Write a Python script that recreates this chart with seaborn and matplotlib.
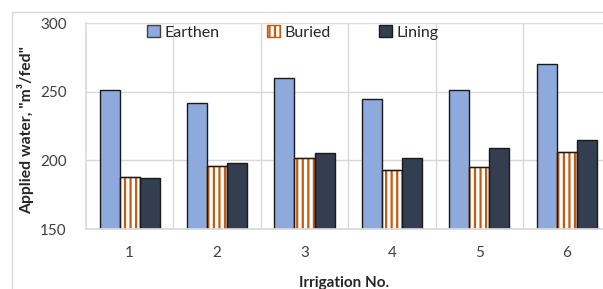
import matplotlib
matplotlib.use("Agg")
import matplotlib.pyplot as plt
import seaborn as sns
import pandas as pd
from matplotlib.patches import Rectangle, Patch

irrigation = ["1", "2", "3", "4", "5", "6"]
earthen = [251, 242, 260, 245, 251, 270]
buried = [188, 196, 202, 193, 195, 206]
lining = [187, 198, 205, 202, 209, 215]
series_names = ["Earthen", "Buried", "Lining"]

df = pd.DataFrame({
    "Irrigation": irrigation * 3,
    "Type": [s for s in series_names for _ in irrigation],
    "Water": earthen + buried + lining,
})

sns.set_theme(style="white")
plt.rcParams["font.family"] = ["Lato", "DejaVu Sans"]
plt.rcParams["hatch.linewidth"] = 1.6

fig = plt.figure(figsize=(6.03, 2.89), dpi=100)
ax = fig.add_axes([0.1426, 0.2076, 0.8574, 0.7128])

colors = {"Earthen": "#8EA9DB", "Buried": "#FFFFFF", "Lining": "#333F50"}
sns.barplot(data=df, x="Irrigation", y="Water", hue="Type", palette=colors,
            width=0.69, ax=ax, legend=False, edgecolor="#1a1a1a", linewidth=1.0,
            saturation=1)

for bar in ax.containers[1]:
    bar.set_hatch("|||")
    bar.set_edgecolor("#C55A11")
for bar in ax.containers[1]:
    x, y = bar.get_xy()
    ax.add_patch(Rectangle((x, y), bar.get_width(), bar.get_height(), fill=False,
                           edgecolor="#1a1a1a", linewidth=1.0, zorder=bar.get_zorder() + 0.1))

ax.set_ylim(150, 300)
ax.set_yticks([150, 200, 250, 300])
ax.set_xlim(-0.5, 5.415)
ax.set_xticks([0.5, 1.5, 2.5, 3.5, 4.5], minor=True)
ax.grid(axis="y", color="#D9D9D9", linewidth=1.0)
ax.grid(axis="x", which="minor", color="#D9D9D9", linewidth=1.0)
ax.set_axisbelow(True)
for s in ["top", "right"]:
    ax.spines[s].set_visible(False)
ax.spines["left"].set_color("#D9D9D9")
ax.spines["bottom"].set_color("#D9D9D9")
ax.tick_params(axis="both", which="both", length=0, labelsize=11, colors="#404040")
ax.tick_params(axis="x", pad=12)
ax.tick_params(axis="y", pad=14)

ax.set_xlabel("Irrigation No.", fontsize=11, fontweight="bold", color="#262626", labelpad=12)
ax.set_ylabel('Applied water, "m³/fed"', fontsize=11.3, fontweight="bold", color="#262626")
ax.yaxis.set_label_coords(-0.100, 0.48)

handles = [
    Patch(facecolor="#8EA9DB", edgecolor="#404040", label="Earthen"),
    Patch(facecolor="white", edgecolor="#C55A11", hatch="|||", label="Buried"),
    Patch(facecolor="#333F50", edgecolor="#1a1a1a", label="Lining"),
]
leg = ax.legend(handles=handles, loc="upper left", bbox_to_anchor=(0.09, 1.06), ncol=3,
                frameon=False, fontsize=11.5, handlelength=0.8, handleheight=0.8,
                handletextpad=0.3, columnspacing=3.0)
for t in leg.get_texts():
    t.set_color("#262626")

fig.patches.append(Rectangle((12 / 603, -0.1), 1.2, 1.1 - 12 / 289, transform=fig.transFigure,
                             fill=False, edgecolor="#D9D9D9", linewidth=1.0))

fig.savefig("out.png", dpi=100)
